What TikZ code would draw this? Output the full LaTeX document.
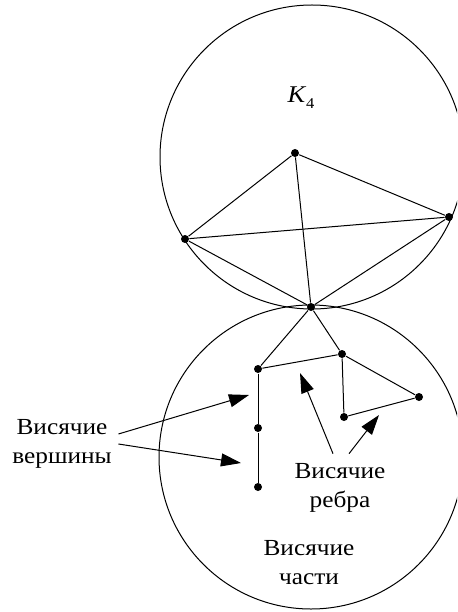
\documentclass[tikz,border=0pt]{standalone}
\usepackage{fontspec}
\setmainfont{Liberation Serif}[FakeStretch=1.1]
\usetikzlibrary{arrows.meta}

\begin{document}
\begin{tikzpicture}[x=1pt, y=-1pt, line width=1pt,
  vertex/.style={circle, fill, inner sep=0pt, minimum size=8pt},
  pointer/.style={-{Triangle[length=20pt, width=13pt]}},
  remark/.style={align=center, font=\fontsize{23}{29}\selectfont}]
\useasboundingbox (0,0) rectangle (457,612);
\clip (0,0) rectangle (457,612);

% two blocks
\draw (312,157) circle[radius=152];
\draw (311,457) circle[radius=152];

\node (k4) at (301,98) {\fontsize{24}{24}\selectfont\itshape K\kern1pt\raisebox{-6pt}{\upshape\fontsize{15}{15}\selectfont 4}};

\node[vertex] (top) at (295,153) {};
\node[vertex] (left) at (185,239) {};
\node[vertex] (right) at (449,217) {};
\node[vertex] (cut) at (311,307) {};
\node[vertex] (a) at (258,369) {};
\node[vertex] (b) at (342,354) {};
\node[vertex] (c) at (419,397) {};
\node[vertex] (d) at (344,417) {};
\node[vertex] (e) at (258,428) {};
\node[vertex] (f) at (258,487) {};

\draw (top) -- (left);
\draw (top) -- (right);
\draw (top) -- (cut);
\draw (left) -- (right);
\draw (left) -- (cut);
\draw (right) -- (cut);
\draw (cut) -- (a);
\draw (cut) -- (b);
\draw (a) -- (b);
\draw (b) -- (c);
\draw (b) -- (d);
\draw (d) -- (c);
\draw (a) -- (e);
\draw (e) -- (f);

\node[remark] (verts) at (62,444) {Висячие\\вершины};
\node[remark] (edges) at (340,488) {Висячие\\ребра};
\node[remark] (parts) at (309,563) {Висячие\\части};

\coordinate (tip1) at (249,395);
\coordinate (tip2) at (241,463);
\coordinate (tip3) at (300,373);
\coordinate (tip4) at (379,415);

\draw[pointer] ([xshift=3pt, yshift=10pt]verts.east) -- (tip1);
\draw[pointer] ([xshift=3pt, yshift=0pt]verts.east) -- (tip2);
\draw[pointer] ([xshift=-7pt, yshift=6pt]edges.north) -- (tip3);
\draw[pointer] ([xshift=9pt, yshift=6pt]edges.north) -- (tip4);
\end{tikzpicture}
\end{document}
